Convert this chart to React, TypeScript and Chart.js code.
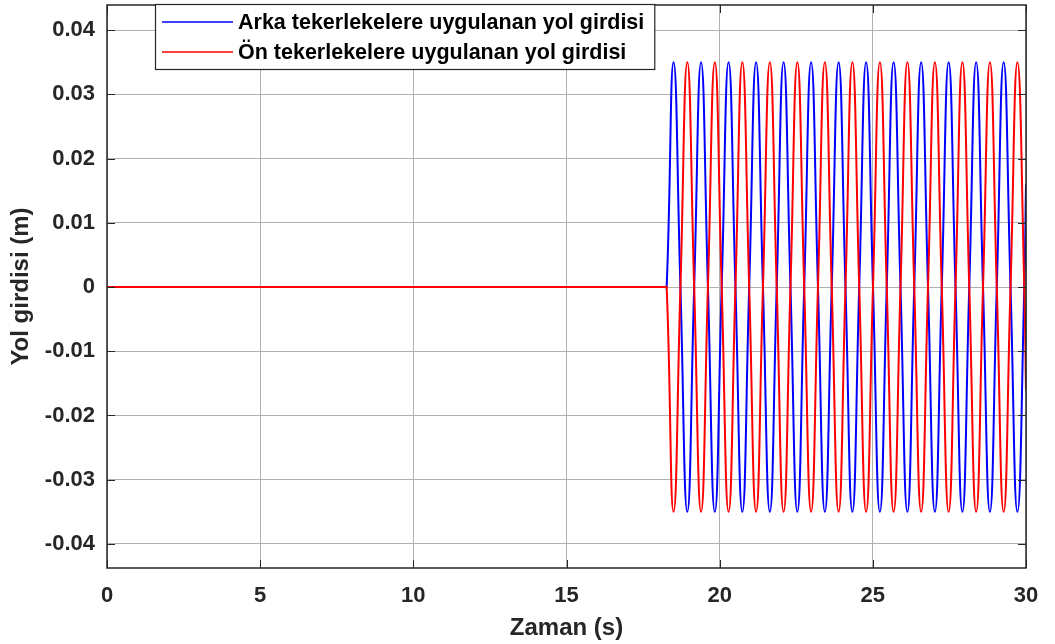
import React, { useEffect, useRef } from "react";
import { Chart, registerables } from "chart.js";

Chart.register(...registerables);

// Time axis (s): flat until the input starts, then peaks / zero crossings
const timeS = [
  0, 18.2,
  18.27, 18.495, 18.719, 18.944,
  19.168, 19.393, 19.617, 19.842,
  20.066, 20.291, 20.515, 20.74,
  20.964, 21.189, 21.413, 21.638,
  21.862, 22.087, 22.311, 22.536,
  22.76, 22.985, 23.209, 23.434,
  23.658, 23.883, 24.107, 24.332,
  24.556, 24.781, 25.005, 25.23,
  25.454, 25.679, 25.903, 26.128,
  26.352, 26.577, 26.801, 27.026,
  27.25, 27.475, 27.699, 27.924,
  28.148, 28.373, 28.597, 28.822,
  29.046, 29.271, 29.495, 29.72,
  29.944, 30,
];

// Rear wheel road input (m)
const rearInput = [
  0, 0,
  0, 0.035, 0, -0.035,
  0, 0.035, 0, -0.035,
  0, 0.035, 0, -0.035,
  0, 0.035, 0, -0.035,
  0, 0.035, 0, -0.035,
  0, 0.035, 0, -0.035,
  0, 0.035, 0, -0.035,
  0, 0.035, 0, -0.035,
  0, 0.035, 0, -0.035,
  0, 0.035, 0, -0.035,
  0, 0.035, 0, -0.035,
  0, 0.035, 0, -0.035,
  0, 0.035, 0, -0.035,
  0, 0.016,
];

// Front wheel road input (m)
const frontInput = [
  0, 0,
  0, -0.035, 0, 0.035,
  0, -0.035, 0, 0.035,
  0, -0.035, 0, 0.035,
  0, -0.035, 0, 0.035,
  0, -0.035, 0, 0.035,
  0, -0.035, 0, 0.035,
  0, -0.035, 0, 0.035,
  0, -0.035, 0, 0.035,
  0, -0.035, 0, 0.035,
  0, -0.035, 0, 0.035,
  0, -0.035, 0, 0.035,
  0, -0.035, 0, 0.035,
  0, -0.035, 0, 0.035,
  0, -0.016,
];

const seriesLabels = [
  "Arka tekerlekelere uygulanan yol girdisi",
  "Ön tekerlekelere uygulanan yol girdisi",
];
const seriesColors = ["#0000ff", "#ff0000"];

const xTicks = [0, 5, 10, 15, 20, 25, 30];
const yTicks = [-0.04, -0.03, -0.02, -0.01, 0, 0.01, 0.02, 0.03, 0.04];
const xTitle = "Zaman (s)";
const yTitle = "Yol girdisi (m)";

const FONT = "'Liberation Sans', Arial, Helvetica, sans-serif";
const AXIS_COLOR = "#262626";

const boxPlugin = {
  id: "matlabBox",
  afterDatasetsDraw(chart: any) {
    const { ctx, chartArea, scales } = chart;
    const { left, right, top, bottom } = chartArea;
    const x = scales.x;
    const y = scales.y;
    ctx.save();
    ctx.strokeStyle = AXIS_COLOR;
    ctx.lineWidth = 1.5;
    ctx.strokeRect(left, top, right - left, bottom - top);
    ctx.lineWidth = 1;
    const tl = 8;
    ctx.beginPath();
    x.ticks.forEach((t: any) => {
      const px = Math.round(x.getPixelForValue(t.value)) + 0.5;
      ctx.moveTo(px, bottom);
      ctx.lineTo(px, bottom - tl);
      ctx.moveTo(px, top);
      ctx.lineTo(px, top + tl);
    });
    y.ticks.forEach((t: any) => {
      const py = Math.round(y.getPixelForValue(t.value)) + 0.5;
      ctx.moveTo(left, py);
      ctx.lineTo(left + tl, py);
      ctx.moveTo(right, py);
      ctx.lineTo(right - tl, py);
    });
    ctx.stroke();
    ctx.restore();
  },
  afterDraw(chart: any) {
    const { ctx, chartArea } = chart;
    const font = `bold 21.5px ${FONT}`;
    ctx.save();
    ctx.font = font;
    const datasets = chart.data.datasets;
    let maxW = 0;
    datasets.forEach((d: any) => {
      maxW = Math.max(maxW, ctx.measureText(d.label).width);
    });
    const bx = chartArea.left + 48;
    const by = chartArea.top - 1;
    const padL = 7;
    const lineLen = 71;
    const gap = 5;
    const padR = 10;
    const rowH = 30;
    const bw = padL + lineLen + gap + maxW + padR;
    const bh = 65;
    ctx.fillStyle = "#ffffff";
    ctx.fillRect(bx, by, bw, bh);
    ctx.strokeStyle = AXIS_COLOR;
    ctx.lineWidth = 1.2;
    ctx.strokeRect(bx + 0.5, by + 0.5, bw, bh);
    const order = [1, 0];
    order.forEach((di, row) => {
      const d = datasets[di];
      const cy = by + 18 + row * rowH;
      ctx.strokeStyle = d.borderColor;
      ctx.lineWidth = 1.5;
      ctx.beginPath();
      ctx.moveTo(bx + padL, cy);
      ctx.lineTo(bx + padL + lineLen, cy);
      ctx.stroke();
      ctx.fillStyle = "#000000";
      ctx.textBaseline = "middle";
      ctx.textAlign = "left";
      ctx.fillText(d.label, bx + padL + lineLen + gap, cy + 1);
    });
    ctx.restore();
  },
};

export default function App() {
  const canvasRef = useRef<HTMLCanvasElement | null>(null);

  useEffect(() => {
    const canvas = canvasRef.current;
    if (!canvas) return;
    const rearData = timeS.map((t, i) => ({ x: t, y: rearInput[i] }));
    const frontData = timeS.map((t, i) => ({ x: t, y: frontInput[i] }));

    const chart = new Chart(canvas, {
      type: "line",
      data: {
        datasets: [
          {
            label: seriesLabels[1],
            data: frontData,
            borderColor: seriesColors[1],
            borderWidth: 2,
            pointRadius: 0,
            tension: 0.5,
            fill: false,
            order: 1,
          },
          {
            label: seriesLabels[0],
            data: rearData,
            borderColor: seriesColors[0],
            borderWidth: 2,
            pointRadius: 0,
            tension: 0.5,
            fill: false,
            order: 2,
          },
        ],
      },
      options: {
        responsive: false,
        animation: false,
        events: [],
        layout: { padding: { left: 0, top: 5, right: 29, bottom: 0 } },
        plugins: {
          legend: { display: false },
          tooltip: { enabled: false },
        },
        scales: {
          x: {
            type: "linear",
            min: 0,
            max: 30,
            afterBuildTicks: (scale: any) => {
              scale.ticks = xTicks.map((v) => ({ value: v }));
            },
            afterFit: (scale: any) => {
              scale.height = 76;
              scale.paddingLeft = 0;
              scale.paddingRight = 0;
            },
            ticks: {
              padding: 15,
              color: AXIS_COLOR,
              font: { family: FONT, size: 22, weight: "bold" },
              maxRotation: 0,
              callback: (v: any) => String(v),
            },
            grid: { color: "#b0b0b0", lineWidth: 1, drawTicks: false },
            border: { display: false },
            title: {
              display: true,
              text: xTitle,
              color: AXIS_COLOR,
              font: { family: FONT, size: 24, weight: "bold" },
              padding: { top: 0, bottom: 1 },
            },
          },
          y: {
            type: "linear",
            min: -0.043744,
            max: 0.0439,
            afterBuildTicks: (scale: any) => {
              scale.ticks = yTicks.map((v) => ({ value: v }));
            },
            afterFit: (scale: any) => {
              scale.width = 107;
              scale.paddingTop = 0;
              scale.paddingBottom = 0;
            },
            ticks: {
              padding: 12,
              color: AXIS_COLOR,
              font: { family: FONT, size: 22, weight: "bold" },
              callback: (v: any) => {
                const n = Number(v);
                return Math.abs(n) < 1e-9 ? "0" : String(Number(n.toFixed(2)));
              },
            },
            grid: { color: "#b0b0b0", lineWidth: 1, drawTicks: false },
            border: { display: false },
            title: {
              display: true,
              text: yTitle,
              color: AXIS_COLOR,
              font: { family: FONT, size: 24, weight: "bold" },
              padding: { top: 7, bottom: 0 },
            },
          },
        },
      },
      plugins: [boxPlugin],
    });
    return () => chart.destroy();
  }, []);

  return (
    <div style={{ position: "fixed", left: 0, top: 0, width: 1055, height: 644, background: "#ffffff" }}>
      <canvas ref={canvasRef} width={1055} height={644} style={{ display: "block" }} />
    </div>
  );
}
